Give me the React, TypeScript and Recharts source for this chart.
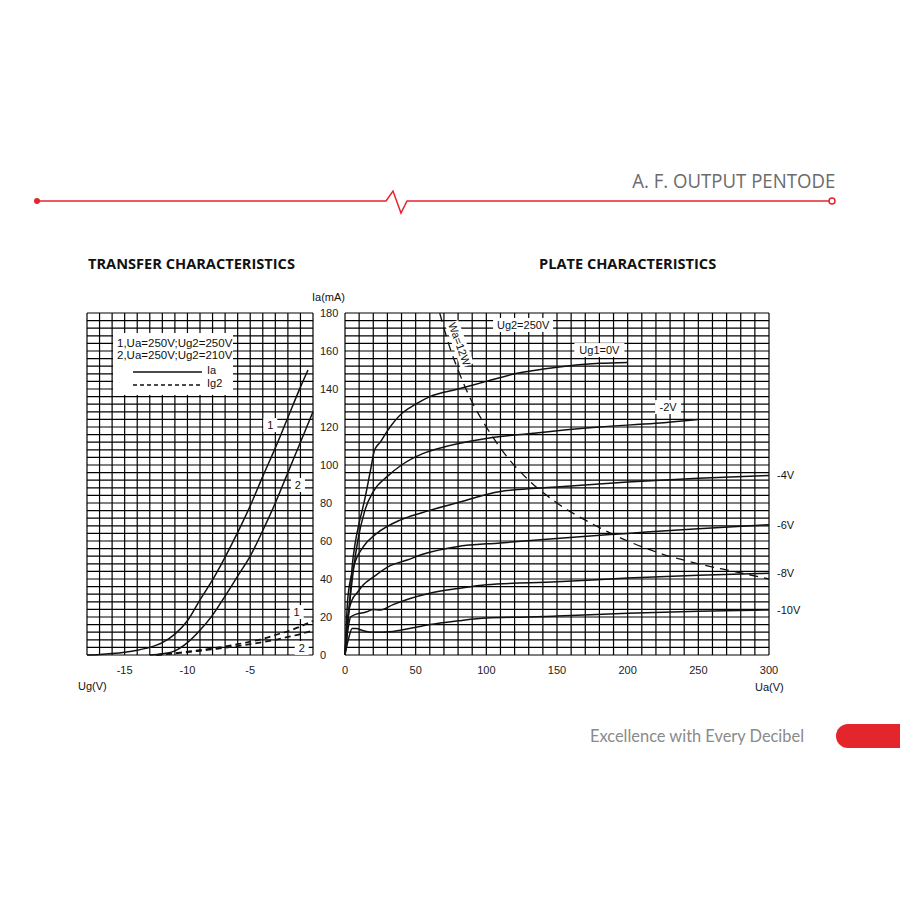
import React from "react";
import {
  LineChart,
  Line,
  XAxis,
  YAxis,
  CartesianGrid,
  ReferenceDot,
} from "recharts";

// transfer characteristics: [Ug (V), I (mA)]
const ia1 = [
  [-18, 0], [-17, 0.3], [-16, 0.8], [-15, 1.5], [-14, 2.5], [-13, 4], [-12, 6.5],
  [-11, 11], [-10, 18], [-9, 29], [-8, 39.5], [-7, 51.5], [-6, 64.5], [-5, 78.5],
  [-4, 94], [-3, 109], [-2, 125], [-1, 141], [-0.4, 150],
];
const ia2 = [
  [-13, 0], [-12, 0.6], [-11, 2.2], [-10, 6.5], [-9, 13], [-8, 21], [-7, 31],
  [-6, 41.5], [-5, 52], [-4, 65.5], [-3, 80], [-2, 96], [-1, 112], [0, 128],
];
const ig2a = [
  [-12.5, 0], [-11, 1], [-10, 1.8], [-9, 2.6], [-8, 3.5], [-7, 4.5], [-6, 5.7],
  [-5, 7], [-4, 8.5], [-3, 10.5], [-2, 12.5], [-1, 15], [0, 18],
];
const ig2b = [
  [-12.5, 0], [-11, 0.8], [-10, 1.5], [-9, 2.2], [-8, 3], [-7, 3.8], [-6, 4.7],
  [-5, 5.7], [-4, 6.8], [-3, 8], [-2, 9.5], [-1, 11], [0, 13],
];

// plate characteristics: [Ua (V), Ia (mA)]
const ug0 = [
  [0, 0], [2, 18], [3.5, 30], [5, 46], [7, 58], [9, 66], [14, 82], [18, 97],
  [21, 108], [25, 112], [30, 118], [40, 127], [50, 132], [60, 136], [80, 140],
  [100, 144], [120, 148], [150, 151.5], [180, 153.5], [200, 154],
];
const ugm2 = [
  [0, 0], [3, 25], [6, 45], [9, 60], [14, 76], [20, 86], [30, 94], [40, 100],
  [55, 106], [70, 109.5], [100, 114], [130, 116.5], [180, 120], [220, 122], [250, 124],
];
const ugm4 = [
  [0, 0], [2, 30], [6, 46], [13, 57], [22.5, 64], [39, 71], [55, 75], [79, 80],
  [110, 86], [152, 88.5], [200, 91], [250, 93], [300, 94.5],
];
const ugm6 = [
  [0, 0], [2, 20], [5, 29], [8.5, 32.6], [13, 37], [20, 41], [32, 47], [44, 50],
  [55, 53], [79, 57], [110, 59], [152, 61.5], [200, 64], [250, 66.5], [300, 68.5],
];
const ugm8 = [
  [0, 0], [2, 13], [4, 20], [8, 21.5], [15, 22.6], [20, 24], [25, 23.7], [34, 26.5],
  [45, 29.5], [60, 32.5], [80, 35], [100, 37], [150, 38.5], [200, 40.5], [250, 42], [300, 43],
];
const ugm10 = [
  [0, 0], [3, 10], [5, 14], [8, 14], [12, 13], [18, 12], [27, 12], [39, 13],
  [53, 15], [60, 16], [80, 18], [100, 19.5], [130, 20], [150, 20.5], [200, 22],
  [250, 23], [300, 23.7],
];
const wa12 = [
  [67, 180], [75, 160], [80, 150], [90, 133], [100, 120], [115, 104], [130, 92],
  [150, 80], [175, 69], [200, 60], [225, 53], [250, 48], [275, 44], [300, 40],
];

const ugLabels = [-15, -10, -5];
const uaLabels = [0, 50, 100, 150, 200, 250, 300];
const iaLabels = [0, 20, 40, 60, 80, 100, 120, 140, 160, 180];

const ugGrid = Array.from({ length: 19 }, (_, k) => k - 18);
const uaGrid = Array.from({ length: 31 }, (_, k) => k * 10);
const iaGrid = Array.from({ length: 46 }, (_, k) => k * 4);

const pts = (a: number[][]) => a.map(([v, i]) => ({ v, i }));

const FONT = "'Liberation Sans', Arial, sans-serif";
const RED = "#e5252c";

const XTick = (labels: number[]) => (p: any) =>
  labels.includes(p.payload.value) ? (
    <text x={p.x} y={p.y + 11} textAnchor="middle" fontSize={11} fontFamily={FONT} fill="#222">
      {p.payload.value}
    </text>
  ) : (
    <g />
  );

const YTick = (p: any) =>
  iaLabels.includes(p.payload.value) ? (
    <text x={p.x - 17} y={p.y + 4} textAnchor="start" fontSize={11} fontFamily={FONT} fill="#222">
      {p.payload.value}
    </text>
  ) : (
    <g />
  );

const tag = (text: string, w: number, dx = 0, dy = 0, rot = 0) => (p: any) => (
  <g transform={`translate(${p.cx + dx},${p.cy + dy}) rotate(${rot})`}>
    <rect x={-w / 2} y={-7} width={w} height={14} fill="#fff" />
    <text y={4} textAnchor="middle" fontSize={11} fontFamily={FONT} fill="#111">
      {text}
    </text>
  </g>
);

const endTag = (text: string) => (p: any) => (
  <text x={p.cx + 8} y={p.cy + 4} fontSize={11} fontFamily={FONT} fill="#111">
    {text}
  </text>
);

const lineProps = {
  dataKey: "i",
  type: "monotone" as const,
  stroke: "#111",
  strokeWidth: 1.5,
  dot: false,
  isAnimationActive: false,
};

function TransferChart() {
  return (
    <LineChart width={270} height={420} margin={{ top: 23, right: 17, bottom: 25, left: 27 }}>
      <CartesianGrid stroke="#000" strokeWidth={1.2} />
      <XAxis
        type="number"
        dataKey="v"
        domain={[-18, 0]}
        ticks={ugGrid}
        interval={0}
        tick={XTick(ugLabels)}
        tickLine={false}
        axisLine={false}
        height={30}
      />
      <YAxis type="number" domain={[0, 180]} ticks={iaGrid} interval={0} hide />
      <Line {...lineProps} data={pts(ia1)} />
      <Line {...lineProps} data={pts(ia2)} />
      <Line {...lineProps} data={pts(ig2a)} strokeDasharray="6 4" strokeWidth={1.7} />
      <Line {...lineProps} data={pts(ig2b)} strokeDasharray="6 4" strokeWidth={1.7} />
      <ReferenceDot x={-3.4} y={121} r={0} shape={tag("1", 14)} />
      <ReferenceDot x={-1.2} y={89.5} r={0} shape={tag("2", 14)} />
      <ReferenceDot x={-1.3} y={22.6} r={0} shape={tag("1", 14)} />
      <ReferenceDot x={-0.9} y={3.7} r={0} shape={tag("2", 14)} />
    </LineChart>
  );
}

function PlateChart() {
  return (
    <LineChart width={587} height={420} margin={{ top: 23, right: 131, bottom: 25, left: 0 }}>
      <CartesianGrid stroke="#000" strokeWidth={1.2} />
      <XAxis
        type="number"
        dataKey="v"
        domain={[0, 300]}
        ticks={uaGrid}
        interval={0}
        tick={XTick(uaLabels)}
        tickLine={false}
        axisLine={false}
        height={30}
      />
      <YAxis
        type="number"
        domain={[0, 180]}
        ticks={iaGrid}
        interval={0}
        width={32}
        tick={YTick}
        tickLine={false}
        axisLine={false}
      />
      <Line {...lineProps} data={pts(ug0)} />
      <Line {...lineProps} data={pts(ugm2)} />
      <Line {...lineProps} data={pts(ugm4)} />
      <Line {...lineProps} data={pts(ugm6)} />
      <Line {...lineProps} data={pts(ugm8)} />
      <Line {...lineProps} data={pts(ugm10)} />
      <Line {...lineProps} data={pts(wa12)} strokeDasharray="9 6" strokeWidth={1.3} />
      <ReferenceDot x={126} y={173.7} r={0} shape={tag("Ug2=250V", 60)} />
      <ReferenceDot x={180} y={160.5} r={0} shape={tag("Ug1=0V", 50)} />
      <ReferenceDot x={228.6} y={130.5} r={0} shape={tag("-2V", 26)} />
      <ReferenceDot x={81} y={163.7} r={0} shape={tag("Wa=12W", 46, 0, 0, 70)} />
      <ReferenceDot x={300} y={94.5} r={0} shape={endTag("-4V")} />
      <ReferenceDot x={300} y={68.5} r={0} shape={endTag("-6V")} />
      <ReferenceDot x={300} y={43} r={0} shape={endTag("-8V")} />
      <ReferenceDot x={300} y={23.7} r={0} shape={endTag("-10V")} />
    </LineChart>
  );
}

const abs = (left: number, top: number, extra: React.CSSProperties = {}): React.CSSProperties => ({
  position: "absolute",
  left,
  top,
  ...extra,
});

export default function App() {
  const small: React.CSSProperties = { fontFamily: FONT, fontSize: 11, color: "#111", lineHeight: "12px", whiteSpace: "nowrap" };
  const head: React.CSSProperties = { fontFamily: "'Open Sans', sans-serif", fontWeight: 700, fontSize: 14.6, color: "#111", whiteSpace: "nowrap" };
  return (
    <div style={{ position: "absolute", left: 0, top: 0, width: 900, height: 900, background: "#fff", overflow: "hidden" }}>
      <svg width={900} height={900} style={abs(0, 0)}>
        <path
          d="M37,201 L386,201 L393,191 L401,213 L407,201 L829,201"
          fill="none"
          stroke={RED}
          strokeWidth={1.5}
        />
        <circle cx={37} cy={201} r={3} fill={RED} />
        <circle cx={832} cy={201} r={3} fill="#fff" stroke={RED} strokeWidth={1.5} />
      </svg>
      <div
        style={{
          position: "absolute",
          right: 65,
          top: 167,
          fontFamily: "'Open Sans', sans-serif",
          fontSize: 20,
          color: "#6b6b6b",
          whiteSpace: "nowrap",
          transform: "scaleX(0.93)",
          transformOrigin: "right center",
        }}
      >
        A. F. OUTPUT PENTODE
      </div>
      <div style={abs(88, 253, head)}>TRANSFER CHARACTERISTICS</div>
      <div style={abs(539, 253, head)}>PLATE CHARACTERISTICS</div>

      <div style={abs(60, 290)}>
        <TransferChart />
      </div>
      <div style={abs(313, 290)}>
        <PlateChart />
      </div>

      <div style={abs(312, 291, small)}>Ia(mA)</div>
      <div style={abs(78, 680, small)}>Ug(V)</div>
      <div style={abs(755, 681, small)}>Ua(V)</div>

      <div style={abs(113, 333, { width: 120, height: 62, background: "#fff" })}>
        <div style={abs(4, 4, { ...small, fontSize: 11.5 })}>1,Ua=250V;Ug2=250V</div>
        <div style={abs(4, 16, { ...small, fontSize: 11.5 })}>2,Ua=250V;Ug2=210V</div>
        <svg width={120} height={62} style={abs(0, 0)}>
          <line x1={20} y1={39} x2={89} y2={39} stroke="#111" strokeWidth={1.3} />
          <line x1={20} y1={52} x2={89} y2={52} stroke="#111" strokeWidth={1.7} strokeDasharray="4 3" />
        </svg>
        <div style={abs(94, 31, small)}>Ia</div>
        <div style={abs(94, 44, small)}>Ig2</div>
      </div>

      <div style={abs(590, 726, { fontFamily: "Lato, sans-serif", fontSize: 16.4, color: "#8a8a8a", whiteSpace: "nowrap" })}>
        Excellence with Every Decibel
      </div>
      <div style={abs(836, 724, { width: 90, height: 24, borderRadius: 12, background: RED })} />
    </div>
  );
}
